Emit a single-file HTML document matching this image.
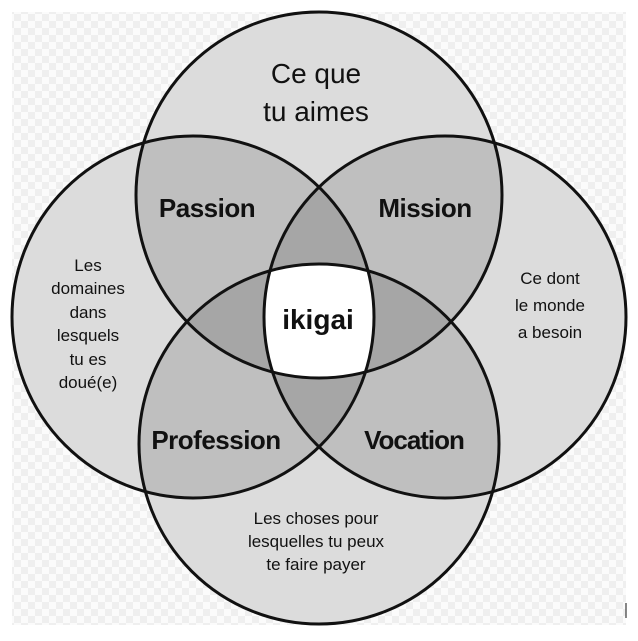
<!DOCTYPE html>
<html><head><meta charset="utf-8"><style>
html,body{margin:0;padding:0;background:#fff;}
svg{display:block}
text{font-family:"Liberation Sans",Arial,sans-serif;fill:#111;text-anchor:middle}
.b{font-weight:bold}
</style></head><body>
<svg width="638" height="641" viewBox="0 0 638 641" xmlns="http://www.w3.org/2000/svg">
<defs>
<pattern id="chk" width="14" height="14" patternUnits="userSpaceOnUse">
<rect width="14" height="14" fill="#fbfbfb"/>
<rect width="7" height="7" fill="#efefef"/>
<rect x="7" y="7" width="7" height="7" fill="#efefef"/>
</pattern>
<clipPath id="cT"><circle cx="319" cy="195" r="183"/></clipPath>
<clipPath id="cL"><circle cx="193" cy="317" r="181"/></clipPath>
<clipPath id="cR"><circle cx="445" cy="317" r="181"/></clipPath>
<clipPath id="cB"><circle cx="319" cy="444" r="180"/></clipPath>
</defs>
<rect x="12" y="12" width="614" height="613" fill="url(#chk)"/>
<g fill="#dcdcdc"><circle cx="319" cy="195" r="183"/><circle cx="193" cy="317" r="181"/><circle cx="445" cy="317" r="181"/><circle cx="319" cy="444" r="180"/></g>
<g fill="#000" fill-opacity="0.13">
<g clip-path="url(#cT)"><circle cx="193" cy="317" r="181"/><circle cx="445" cy="317" r="181"/></g>
<g clip-path="url(#cB)"><circle cx="193" cy="317" r="181"/><circle cx="445" cy="317" r="181"/></g>
</g>
<g clip-path="url(#cT)"><g clip-path="url(#cL)"><g clip-path="url(#cR)"><g clip-path="url(#cB)">
<rect x="0" y="0" width="638" height="641" fill="#fff"/>
</g></g></g></g>
<g fill="none" stroke="#111" stroke-width="3">
<circle cx="319" cy="195" r="183"/><circle cx="193" cy="317" r="181"/><circle cx="445" cy="317" r="181"/><circle cx="319" cy="444" r="180"/>
</g>
<line x1="626" y1="603" x2="626" y2="618" stroke="#111" stroke-width="1"/>
<text x="316" y="83" font-size="28">Ce que</text>
<text x="316" y="121" font-size="28">tu aimes</text>
<text class="b" x="207" y="217" font-size="26" letter-spacing="-0.5">Passion</text>
<text class="b" x="425" y="217" font-size="26" letter-spacing="-0.5">Mission</text>
<text class="b" x="318" y="329" font-size="28">ikigai</text>
<text class="b" x="216" y="449" font-size="26" letter-spacing="-0.5">Profession</text>
<text class="b" x="414" y="449" font-size="26" letter-spacing="-1">Vocation</text>
<g font-size="17">
<text x="88" y="271">Les</text><text x="88" y="294">domaines</text><text x="88" y="318">dans</text>
<text x="88" y="341">lesquels</text><text x="88" y="365">tu es</text><text x="88" y="388">doué(e)</text>
<text x="550" y="284">Ce dont</text><text x="550" y="311">le monde</text><text x="550" y="338">a besoin</text>
<text x="316" y="524">Les choses pour</text><text x="316" y="547">lesquelles tu peux</text><text x="316" y="570">te faire payer</text>
</g>
</svg>
</body></html>
